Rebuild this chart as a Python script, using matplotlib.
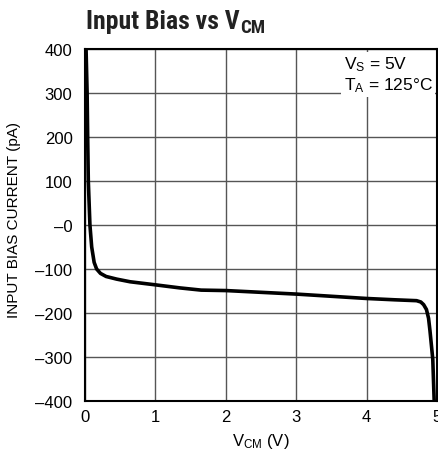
import matplotlib
matplotlib.use("Agg")
import matplotlib.pyplot as plt
from matplotlib import font_manager

names = {f.name for f in font_manager.fontManager.ttflist}
cond = next((n for n in ['Roboto Condensed', 'Archivo Narrow', 'PT Sans Narrow',
                         'Asap Condensed', 'Barlow Condensed'] if n in names), 'Liberation Sans')
base = 'Liberation Sans'
plt.rcParams['font.family'] = [base, 'DejaVu Sans']
plt.rcParams['mathtext.fontset'] = 'custom'
plt.rcParams['mathtext.rm'] = base
plt.rcParams['mathtext.it'] = base

# data
vcm = [0.015, 0.03, 0.038, 0.047, 0.07, 0.095, 0.13, 0.165, 0.22, 0.3, 0.45,
       0.64, 1.0, 1.35, 1.65, 2.0, 2.5, 3.0, 3.5, 4.0, 4.4, 4.71, 4.77, 4.81,
       4.85, 4.88, 4.90, 4.94, 4.96]
ibias = [400, 300, 200, 100, 0, -50, -85, -100, -110, -117, -123,
         -129, -136, -143, -148, -149, -153, -157, -162, -167, -170, -172, -175, -181,
         -192, -212, -240, -305, -400]
xticks = [0, 1, 2, 3, 4, 5]
yticks = [400, 300, 200, 100, 0, -100, -200, -300, -400]
ytick_labels = ['400', '300', '200', '100', '–0', '–100', '–200', '–300', '–400']

fig = plt.figure(figsize=(4.38, 4.56), dpi=100)
ax = fig.add_axes([85/438, 54/456, 352/438, 352/456])
ax.plot(vcm, ibias, color='black', lw=2.6, solid_capstyle='round', solid_joinstyle='round', zorder=3)
ax.set_xlim(0, 5)
ax.set_ylim(-400, 400)
ax.set_xticks(xticks)
ax.set_yticks(yticks)
ax.set_yticklabels(ytick_labels)
ax.tick_params(axis='y', length=0, labelsize=12, pad=9)
ax.tick_params(axis='x', length=0, labelsize=12, pad=6)
ax.grid(True, color='#555555', lw=1.0)
ax.set_axisbelow(True)
for s in ax.spines.values():
    s.set_linewidth(1.5)
ax.set_xlabel(r'$\mathregular{V_{CM}}$ (V)', fontsize=12, labelpad=5)
ax.set_ylabel('INPUT BIAS CURRENT (pA)', fontsize=11)
ax.yaxis.set_label_coords(-0.182, 0.517)
ax.text(0.735, 0.985, '$\\mathregular{V_S}$ = 5V\n$\\mathregular{T_A}$ = 125°C', transform=ax.transAxes,
        ha='left', va='top', fontsize=12.5, linespacing=1.15,
        bbox=dict(facecolor='white', edgecolor='none', pad=2), zorder=4)
title = fig.text(86/438, 1 - 29/456, 'Input Bias vs V', fontsize=18.5, fontweight='bold',
                 ha='left', va='baseline', family=cond, color='#222222')
fig.canvas.draw()
bb = title.get_window_extent()
fig.text(bb.x1 / fig.bbox.width + 0.002, 1 - 33/456, 'CM', fontsize=13.5, fontweight='bold',
         ha='left', va='baseline', family=cond, color='#222222')
fig.savefig('out.png', dpi=100)
